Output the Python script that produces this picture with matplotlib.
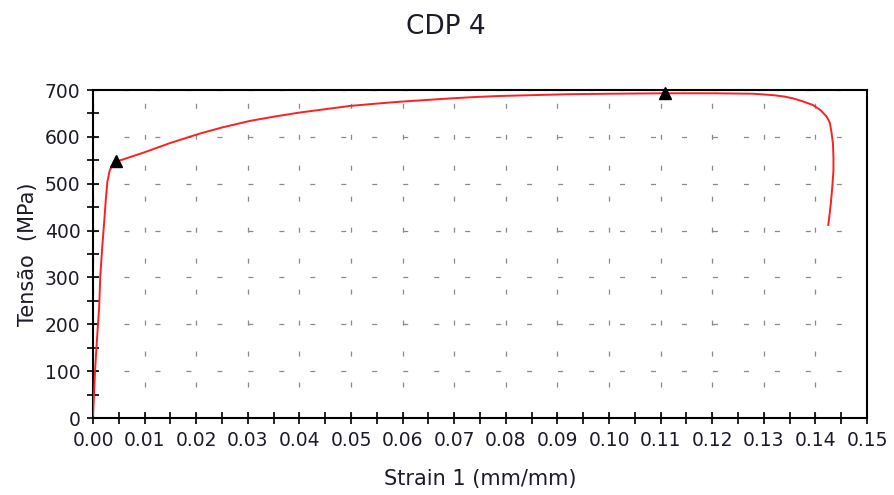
import matplotlib
matplotlib.use("Agg")
import matplotlib.pyplot as plt
from matplotlib.ticker import MultipleLocator, FormatStrFormatter

# Tensile test curve for specimen CDP 4
strain = [0.0, 0.0002, 0.0004, 0.0008, 0.0012, 0.0014, 0.0018, 0.0022, 0.0025,
          0.0028, 0.0032, 0.0037, 0.0045, 0.0056, 0.0075, 0.0097, 0.0150, 0.0207,
          0.0250, 0.0304, 0.0350, 0.0401, 0.0450, 0.0498, 0.0550, 0.0595, 0.0650,
          0.0692, 0.0740, 0.0782, 0.0850, 0.0920, 0.1000, 0.1109, 0.1200, 0.1280,
          0.1318, 0.1340, 0.1357, 0.1375, 0.1395, 0.1410, 0.1422, 0.1428, 0.1431,
          0.1434, 0.1435, 0.1435, 0.1433, 0.1430, 0.1427, 0.1425]
stress = [5, 50, 102, 173, 237, 301, 366, 423, 469,
          505, 527, 539, 548, 551, 558, 566, 587, 607,
          620, 634, 643, 652, 659, 666, 671, 675, 679,
          682, 685, 687, 689, 691, 692, 693, 693, 692,
          689, 686, 682, 676, 668, 657, 643, 630, 611,
          586, 555, 529, 497, 459, 430, 412]

# Yield point and ultimate strength markers
marker_strain = [0.0045, 0.1109]
marker_stress = [548, 693]

title = "CDP 4"
xlabel = "Strain 1 (mm/mm)"
ylabel = "Tensão  (MPa)"

plt.rcParams["font.family"] = ["DejaVu Sans"]
plt.rcParams["lines.scale_dashes"] = False

fig = plt.figure(figsize=(8.94, 4.95), dpi=100)
ax = fig.add_axes([93 / 894, 1 - 418 / 495, (867 - 93) / 894, (418 - 90) / 495])

ax.plot(strain, stress, color="#ff1f1f", lw=1.4, zorder=3)
ax.plot(marker_strain, marker_stress, linestyle="none", marker="^",
        color="black", markersize=8, zorder=4, clip_on=False)

ax.set_xlim(0, 0.15)
ax.set_ylim(0, 700)
ax.xaxis.set_major_locator(MultipleLocator(0.01))
ax.xaxis.set_minor_locator(MultipleLocator(0.005))
ax.yaxis.set_major_locator(MultipleLocator(100))
ax.yaxis.set_minor_locator(MultipleLocator(50))
ax.xaxis.set_major_formatter(FormatStrFormatter("%.2f"))

text_color = "#1c1c28"
ax.tick_params(which="both", direction="inout", length=8, width=1.2,
               color="black", labelsize=13.5, labelcolor=text_color)
ax.tick_params(axis="x", which="both", pad=5)
ax.tick_params(axis="y", which="both", pad=5)

for side in ["left", "bottom", "top", "right"]:
    ax.spines[side].set_linewidth(1.5)
    ax.spines[side].set_color("black")

ax.grid(True, which="major", color="#8a8a8a", lw=0.9,
        linestyle=(0, (3.6, 18.7)))
ax.set_axisbelow(True)

ax.set_xlabel(xlabel, fontsize=15, color=text_color, labelpad=14)
ax.set_ylabel(ylabel, fontsize=15, color=text_color, labelpad=5)
fig.text(446 / 894, 1 - 27 / 495, title, fontsize=19, color=text_color,
         ha="center", va="center")

fig.savefig("out.png", dpi=100)
